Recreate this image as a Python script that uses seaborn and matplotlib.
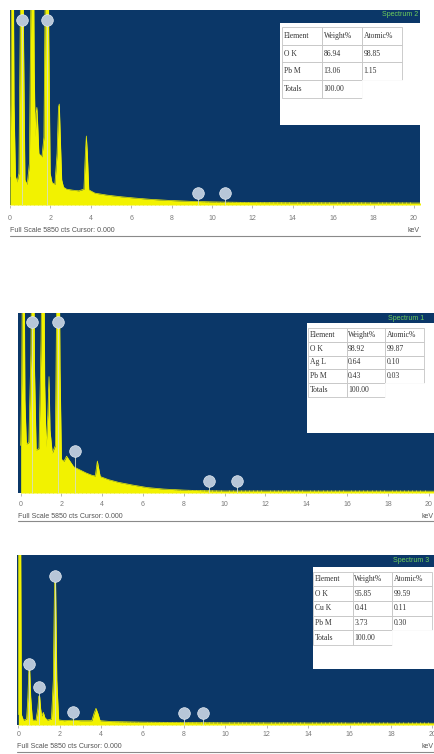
import numpy as np
import pandas as pd
import matplotlib
matplotlib.use("Agg")
import matplotlib.pyplot as plt
import seaborn as sns
from matplotlib.patches import Rectangle
from matplotlib.lines import Line2D

W, H = 435, 754
NAVY = "#0b3768"
YELLOW = "#f2f200"
MARKER = "#b7c6d8"
GREY = "#7a7a7a"

# ---- Spectrum 2 (top panel) ----
s2_kev = [0.00, 0.04, 0.09, 0.15, 0.20, 0.27, 0.35, 0.44, 0.50, 0.55, 0.62, 0.67,
          0.74, 0.85, 0.96, 1.03, 1.08, 1.15, 1.20, 1.25, 1.29, 1.33, 1.37, 1.43,
          1.58, 1.68, 1.75, 1.80, 1.87, 1.92, 1.99, 2.08, 2.22, 2.33, 2.40, 2.44,
          2.49, 2.56, 2.65, 2.80, 3.10, 3.40, 3.66, 3.73, 3.78, 3.83, 3.90, 4.20,
          4.80, 5.50, 6.20, 7.00, 8.00, 9.00, 10.0, 11.0, 12.0, 14.0, 20.9]
s2_cts = [800, 3000, 9000, 9000, 3000, 800, 640, 900, 5000, 9000, 9000, 5000,
          700, 560, 1200, 6000, 9000, 9000, 4000, 2000, 2700, 2900, 2400, 1500,
          1400, 2000, 7000, 9000, 9000, 5000, 900, 620, 560, 1500, 2900, 3000,
          2000, 700, 480, 420, 390, 370, 420, 1500, 2030, 1500, 400, 300,
          240, 190, 150, 110, 75, 50, 35, 25, 15, 8, 0]
s2_mark_kev = [0.58, 1.83, 9.30, 10.63]
s2_mark_cts = [5560, 5560, 300, 300]
s2_rows = [["Element", "Weight%", "Atomic%"],
           ["O K", "86.94", "98.85"],
           ["Pb M", "13.06", "1.15"],
           ["Totals", "100.00", ""]]

# ---- Spectrum 1 (middle panel) ----
s1_kev = [0.00, 0.05, 0.10, 0.16, 0.21, 0.28, 0.40, 0.50, 0.56, 0.63, 0.68, 0.76,
          0.90, 1.00, 1.06, 1.13, 1.18, 1.25, 1.33, 1.39, 1.44, 1.55, 1.70, 1.76,
          1.81, 1.88, 1.93, 2.00, 2.12, 2.25, 2.40, 2.60, 2.90, 3.20, 3.50, 3.66,
          3.72, 3.76, 3.81, 3.90, 4.30, 4.80, 5.50, 6.20, 7.00, 8.00, 9.00, 10.0, 20.9]
s1_cts = [1500, 3500, 9000, 9000, 3000, 1550, 1600, 4500, 9000, 9000, 4000, 1350,
          1400, 5000, 9000, 9000, 3500, 1450, 2500, 3760, 2000, 1250, 1500, 6000,
          9000, 9000, 4000, 1050, 980, 1150, 1000, 800, 700, 600, 520, 500,
          800, 990, 800, 480, 380, 290, 200, 120, 70, 35, 15, 5, 0]
s1_mark_kev = [0.57, 1.84, 2.66, 9.24, 10.60]
s1_mark_cts = [5560, 5560, 1320, 330, 330]
s1_rows = [["Element", "Weight%", "Atomic%"],
           ["O K", "98.92", "99.87"],
           ["Ag L", "0.64", "0.10"],
           ["Pb M", "0.43", "0.03"],
           ["Totals", "100.00", ""]]

# ---- Spectrum 3 (bottom panel) ----
s3_kev = [0.00, 0.02, 0.10, 0.15, 0.25, 0.40, 0.46, 0.51, 0.55, 0.60, 0.68, 0.85,
          0.94, 0.99, 1.03, 1.08, 1.13, 1.21, 1.28, 1.40, 1.60, 1.69, 1.75, 1.80,
          1.86, 1.95, 2.20, 2.63, 3.00, 3.55, 3.66, 3.75, 3.84, 3.95, 4.50, 6.00,
          8.00, 10.0, 20.9]
s3_cts = [300, 9000, 9000, 300, 100, 150, 900, 1870, 1870, 900, 120, 100,
          500, 945, 945, 500, 250, 380, 200, 110, 150, 1500, 4980, 4980,
          1500, 120, 90, 110, 90, 90, 350, 520, 350, 90, 60, 40,
          25, 15, 0]
s3_mark_kev = [0.53, 1.00, 1.77, 2.63, 8.02, 8.94]
s3_mark_cts = [2050, 1260, 5120, 390, 350, 350]
s3_rows = [["Element", "Weight%", "Atomic%"],
           ["O K", "95.85", "99.59"],
           ["Cu K", "0.41", "0.11"],
           ["Pb M", "3.73", "0.30"],
           ["Totals", "100.00", ""]]

tick_kev = [0, 2, 4, 6, 8, 10, 12, 14, 16, 18, 20]

sns.set_theme(style="white")
plt.rcParams["font.family"] = ["Liberation Sans", "DejaVu Sans"]

fig = plt.figure(figsize=(W / 100, H / 100), dpi=100)
fig.patch.set_facecolor("white")

# pixel layout of each panel
panels = [
    dict(name="Spectrum 2", kev=s2_kev, cts=s2_cts, mk=s2_mark_kev, mc=s2_mark_cts, rows=s2_rows,
         box=(10, 10, 420, 205), xlim=(0, 20.3), pad=5.0, white=(280, 23, 420, 125),
         table=(282, 27, 402, 98), spec=(418, 15, "right"), foot=230, kev_x=(420, "right"), uline=236),
    dict(name="Spectrum 1", kev=s1_kev, cts=s1_cts, mk=s1_mark_kev, mc=s1_mark_cts, rows=s1_rows,
         box=(18, 313, 446, 493), xlim=(-0.13, 20.85), pad=3.8, white=(306.7, 323, 446, 432.7),
         table=(308, 328, 424, 397), spec=(388, 318, "left"), foot=516, kev_x=(434, "right"), uline=521),
    dict(name="Spectrum 3", kev=s3_kev, cts=s3_cts, mk=s3_mark_kev, mc=s3_mark_cts, rows=s3_rows,
         box=(17, 555, 450, 725), xlim=(-0.063, 20.85), pad=2.5, white=(312.7, 566.7, 450, 669),
         table=(313.3, 571.7, 432, 645), spec=(393, 561, "left"), foot=747, kev_x=(434, "right"), uline=752),
]

for p in panels:
    l, t, r, b = p["box"]
    ax = fig.add_axes([l / W, 1 - b / H, (r - l) / W, (b - t) / H])
    ax.set_facecolor(NAVY)
    ax.fill_between(p["kev"], p["cts"], -60, color=YELLOW, lw=0, zorder=1)
    sns.lineplot(x=p["kev"], y=p["cts"], ax=ax, color=YELLOW, lw=0.5,
                 estimator=None, sort=False, zorder=2)
    ax.vlines(p["mk"], -60, p["mc"], colors="#d6dfc6", lw=0.6, zorder=3)
    sns.scatterplot(x=p["mk"], y=p["mc"], ax=ax, s=70, color=MARKER,
                    edgecolor="#e3eaf2", linewidth=0.5, zorder=4)
    ax.set_xlim(*p["xlim"])
    ax.set_ylim(-60, 5850)
    ax.set_xlabel("")
    ax.set_ylabel("")
    ax.set_yticks([])
    ax.set_xticks(tick_kev)
    ax.set_xticklabels([str(v) for v in tick_kev])
    ax.set_xticks(np.arange(0, 20.01, 0.2), minor=True)
    ax.tick_params(axis="x", which="major", direction="out", length=2, width=0.5,
                   color="#9a9a9a", labelsize=5, labelcolor=GREY, pad=p["pad"])
    ax.tick_params(axis="x", which="minor", direction="in", length=2, width=0.6,
                   color="#c9c87a")
    ax.tick_params(axis="x", bottom=True, which="both")
    for s in ax.spines.values():
        s.set_visible(False)

    def axc(x, y):
        return (x - l) / (r - l), (b - y) / (b - t)

    # white results box
    wx0, wy0 = axc(p["white"][0], p["white"][3])
    wx1, wy1 = axc(p["white"][2], p["white"][1])
    ax.add_patch(Rectangle((wx0, wy0), wx1 - wx0, wy1 - wy0, transform=ax.transAxes,
                           facecolor="white", edgecolor="none", zorder=5, clip_on=False))
    tx0, ty0 = axc(p["table"][0], p["table"][3])
    tx1, ty1 = axc(p["table"][2], p["table"][1])
    tab = ax.table(cellText=p["rows"], cellLoc="left",
                   bbox=[tx0, ty0, tx1 - tx0, ty1 - ty0], zorder=6)
    tab.auto_set_font_size(False)
    for (i, j), cell in tab.get_celld().items():
        cell.set_edgecolor("#c4c4c4")
        cell.set_linewidth(0.6)
        cell.set_facecolor("white")
        cell.PAD = 0.04
        cell.get_text().set_fontsize(5.5)
        cell.get_text().set_fontfamily("Liberation Serif")
        cell.get_text().set_color("#333333")
        if i == len(p["rows"]) - 1 and j == 2:
            cell.set_edgecolor("white")

    # spectrum name
    sx, sy, sha = p["spec"]
    fig.text(sx / W, 1 - sy / H, p["name"], ha=sha, va="center", fontsize=5,
             color="#6fcf5a", zorder=7)
    # footer
    fig.text(l / W, 1 - p["foot"] / H, "Full Scale 5850 cts Cursor: 0.000",
             ha="left", va="center", fontsize=5, color="#555555")
    kx, kha = p["kev_x"]
    fig.text(kx / W, 1 - p["foot"] / H, "keV", ha=kha, va="center", fontsize=5, color="#555555")
    fig.add_artist(Line2D([l / W, r / W], [1 - p["uline"] / H] * 2, color="#8a8a8a", lw=0.8))

fig.savefig("out.png", dpi=100)
